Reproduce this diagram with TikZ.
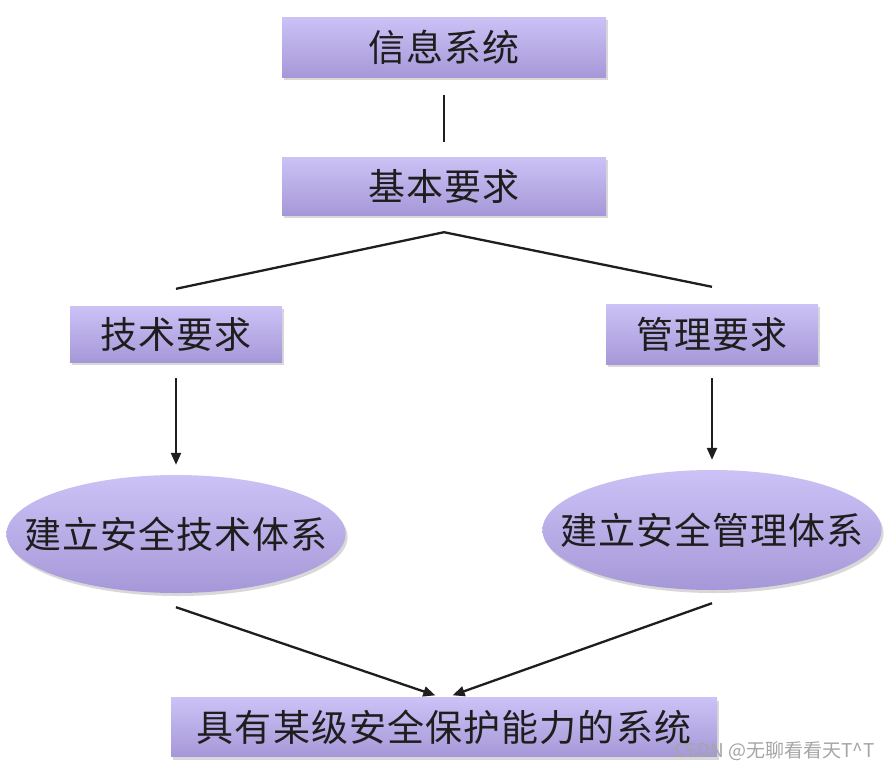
\documentclass[tikz,border=0pt]{standalone}
\usepackage{fontspec}
\usepackage{xcolor}
\usepackage{tikz}
\usetikzlibrary{shapes.geometric, arrows.meta, positioning, shadows, calc}
\newfontfamily\cjk[LetterSpace=3]{Noto Sans CJK SC}
\newfontfamily\marksans{Noto Sans CJK SC}
\definecolor{boxtop}{RGB}{204,194,246}
\definecolor{boxbot}{RGB}{166,152,216}
\definecolor{ink}{RGB}{30,30,30}

\begin{document}
\begin{tikzpicture}[
    x=1pt, y=-1pt,
    font=\cjk\fontsize{37}{40}\selectfont,
    block/.style={rectangle, top color=boxtop, bottom color=boxbot, text=ink, inner sep=0pt,
        drop shadow={shadow xshift=2pt, shadow yshift=-3pt, fill=gray!60, opacity=0.5}},
    oval/.style={ellipse, top color=boxtop, bottom color=boxbot, text=ink, inner xsep=-32pt, inner ysep=0pt,
        drop shadow={shadow xshift=2pt, shadow yshift=-3pt, fill=gray!60, opacity=0.5}},
    link/.style={line width=2.3pt, draw=ink},
    arr/.style={link, -{Triangle[length=12pt, width=10pt]}},
]
\useasboundingbox[fill=white] (0,0) rectangle (893,771);

% Boxes
\node[block, minimum width=324pt, minimum height=60pt] (info) at (444,47) {信息系统};
\node[block, minimum width=324pt, minimum height=58pt] (basic) at (444,186) {基本要求};
\node[block, minimum width=212pt, minimum height=56pt] (tech) at (176,334) {技术要求};
\node[block, minimum width=212pt, minimum height=60pt] (mgmt) at (712,334) {管理要求};
\node[oval, minimum width=337pt, minimum height=118pt] (techsys) at (176,534) {建立安全技术体系};
\node[oval, minimum width=335pt, minimum height=120pt] (mgmtsys) at (712,530) {建立安全管理体系};
\node[block, minimum width=546pt, minimum height=59pt] (result) at (444,727) {具有某级安全保护能力的系统};

% Connectors
\draw[link, shorten <=18pt, shorten >=15pt] (info.south) -- (basic.north);
\coordinate (split) at ([yshift=-17pt]basic.south);
\draw[link] ([yshift=17pt]tech.north) -- (split) -- ([yshift=17pt]mgmt.north);
\draw[arr, shorten <=16pt, shorten >=10pt] (tech.south) -- (techsys.north);
\draw[arr, shorten <=14pt, shorten >=10pt] (mgmt.south) -- (mgmtsys.north);
\draw[arr, shorten >=6pt] ([yshift=-14pt]techsys.south) -- ([xshift=-3pt]result.north);
\draw[arr, shorten >=6pt] ([yshift=-13pt]mgmtsys.south) -- ([xshift=3pt]result.north);

% Watermark
\node[anchor=east, text=gray!70, font=\marksans\fontsize{19}{21}\selectfont] (mark) at (878,751) {CSDN @无聊看看天T\^{}T};

\end{tikzpicture}
\end{document}
